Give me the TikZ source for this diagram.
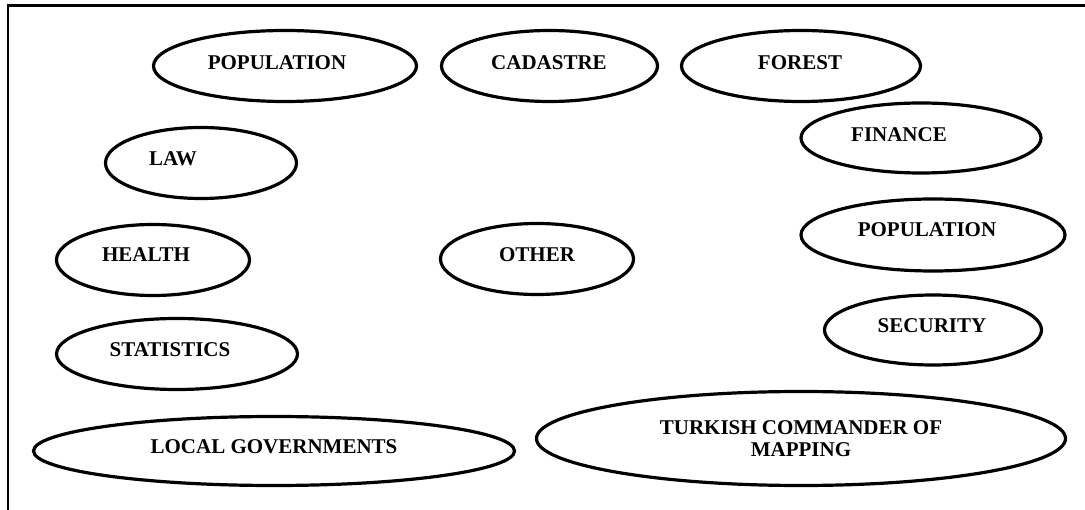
\documentclass[tikz,border=0pt]{standalone}
\usepackage{fontspec}
\setmainfont{Liberation Serif}
\usetikzlibrary{shapes.geometric}

\begin{document}
\begin{tikzpicture}
[x=1pt,y=-1pt,
blob/.style={draw,ellipse,line width=3.2pt,inner sep=0pt},
lbl/.style={anchor=base,font=\fontsize{21}{22}\selectfont\bfseries,inner sep=0pt,align=center},]

\useasboundingbox (0,0) rectangle (1085,510);

%Frame
\draw[line width=2.5pt] (8,512) -- (8,5.5) -- (1087,5.5);

%Top row
\node (popA) at (285,66)[blob,minimum width=263,minimum height=71] {};
\node (cadastre) at (549.5,66)[blob,minimum width=216,minimum height=71] {};
\node (forest) at (801,66)[blob,minimum width=239,minimum height=71] {};
\node (popAT) at (277,70)[lbl] {POPULATION};
\node (cadastreT) at (549,70)[lbl] {CADASTRE};
\node (forestT) at (800,70)[lbl] {FOREST};

%Left column
\node (law) at (201,163)[blob,minimum width=191,minimum height=71] {};
\node (health) at (153,260)[blob,minimum width=193,minimum height=71] {};
\node (stats) at (177,354)[blob,minimum width=241,minimum height=71] {};
\node (lawT) at (173,166)[lbl] {LAW};
\node (healthT) at (146,262)[lbl] {HEALTH};
\node (statsT) at (170,357)[lbl] {STATISTICS};

%Middle
\node (other) at (537,259)[blob,minimum width=193,minimum height=71] {};
\node (otherT) at (537,262)[lbl] {OTHER};

%Right column
\node (finance) at (921,138)[blob,minimum width=240,minimum height=70] {};
\node (popB) at (933,235)[blob,minimum width=264,minimum height=72] {};
\node (security) at (933,330)[blob,minimum width=217,minimum height=70] {};
\node (financeT) at (899,142)[lbl] {FINANCE};
\node (popBT) at (927,237)[lbl] {POPULATION};
\node (securityT) at (932,333)[lbl] {SECURITY};

%Bottom row
\node (local) at (274,451)[blob,minimum width=481,minimum height=69] {};
\node (mapping) at (801,438.5)[blob,minimum width=529,minimum height=94] {};
\node (localT) at (274,454)[lbl] {LOCAL GOVERNMENTS};
\node (mappingT) at (801,457)[lbl] {TURKISH COMMANDER OF\\MAPPING};

\end{tikzpicture}
\end{document}
